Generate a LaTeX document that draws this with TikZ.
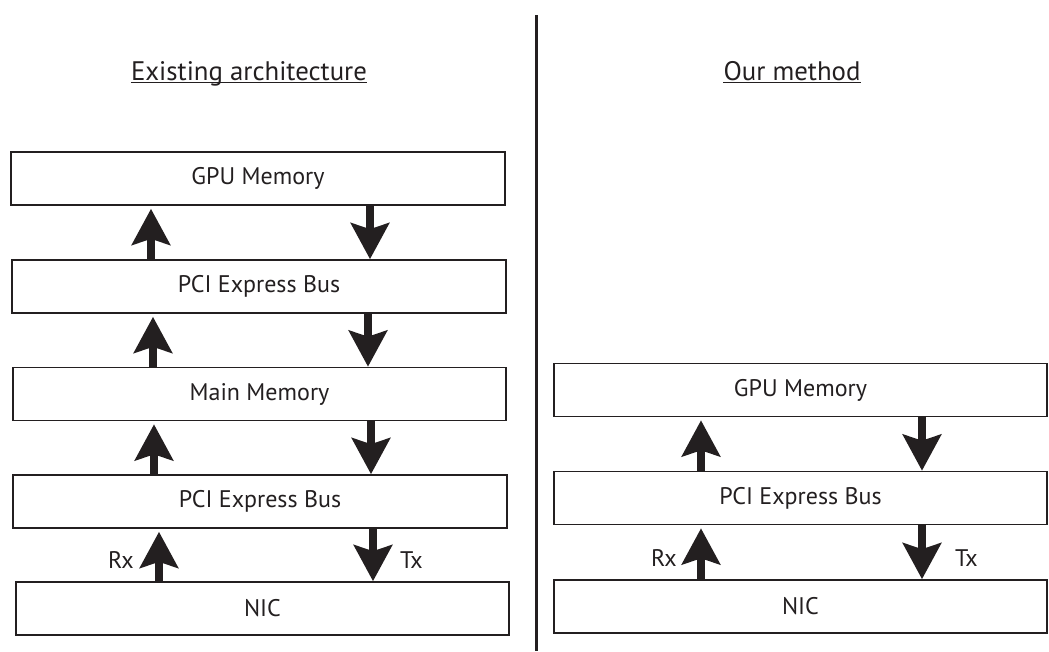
\documentclass[tikz,border=0pt]{standalone}
\usepackage{fontspec}
\setmainfont{PT Sans}
\usetikzlibrary{arrows.meta}
\definecolor{ink}{HTML}{231F20}
\begin{document}
\begin{tikzpicture}[x=1pt,y=-1pt,
  layer/.style={draw=ink, line width=1.6pt, inner sep=0pt, text=ink,
    minimum height=53pt, font=\fontsize{24}{28}\selectfont},
  title/.style={inner sep=0pt, anchor=base, text=ink, font=\fontsize{26.8}{31}\selectfont},
  lab/.style={inner sep=0pt, text=ink, font=\fontsize{24}{28}\selectfont},
  flow/.style={draw=ink, line width=8pt, -{Stealth[length=36pt,width=38pt,inset=6pt]}},
  upflow/.style={flow, shorten >=3pt}]
\useasboundingbox (0,0) rectangle (1049,651);

% divider between the two halves
\draw[ink, line width=3pt] (536,15) -- (536,651);

% headings
\node[title] (tL) at (249,80) {Existing architecture};
\node[title] (tR) at (792,80) {Our method};
\draw[ink, line width=1.3pt] ([yshift=-2.5pt]tL.base west) -- ([yshift=-2.5pt]tL.base east);
\draw[ink, line width=1.3pt] ([yshift=-2.5pt]tR.base west) -- ([yshift=-2.5pt]tR.base east);

% existing architecture stack
\node[layer, minimum width=494pt] (gpuL)  at (258,178.5) {GPU Memory};
\node[layer, minimum width=494pt] (pciL1) at (259,286.5) {PCI Express Bus};
\node[layer, minimum width=493pt] (mainL) at (259.5,394) {Main Memory};
\node[layer, minimum width=494pt] (pciL2) at (260,501.5) {PCI Express Bus};
\node[layer, minimum width=493pt] (nicL)  at (262.5,608.5) {NIC};

\draw[upflow] (pciL1.north -| 151,0) -- (gpuL.south -| 151,0);
\draw[flow]   (gpuL.south -| 370,0) -- (pciL1.north -| 370,0);
\draw[upflow] (mainL.north -| 153,0) -- (pciL1.south -| 153,0);
\draw[flow]   (pciL1.south -| 368,0) -- (mainL.north -| 368,0);
\draw[upflow] (pciL2.north -| 154,0) -- (mainL.south -| 154,0);
\draw[flow]   (mainL.south -| 371,0) -- (pciL2.north -| 371,0);
\draw[upflow] (nicL.north -| 159,0) -- (pciL2.south -| 159,0);
\draw[flow]   (pciL2.south -| 373,0) -- (nicL.north -| 373,0);
\node[lab, anchor=base east] (rxL) at (134,568) {Rx};
\node[lab, anchor=base west] (txL) at (400,568) {Tx};

% our method stack
\node[layer, minimum width=493pt] (gpuR) at (800.5,390) {GPU Memory};
\node[layer, minimum width=493pt] (pciR) at (800.5,498) {PCI Express Bus};
\node[layer, minimum width=493pt] (nicR) at (800.5,606.5) {NIC};

\draw[upflow] (pciR.north -| 701,0) -- (gpuR.south -| 701,0);
\draw[flow]   (gpuR.south -| 922,0) -- (pciR.north -| 922,0);
\draw[upflow] (nicR.north -| 701,0) -- (pciR.south -| 701,0);
\draw[flow]   (pciR.south -| 922,0) -- (nicR.north -| 922,0);
\node[lab, anchor=base east] (rxR) at (677,566) {Rx};
\node[lab, anchor=base west] (txR) at (955,566) {Tx};
\end{tikzpicture}
\end{document}
